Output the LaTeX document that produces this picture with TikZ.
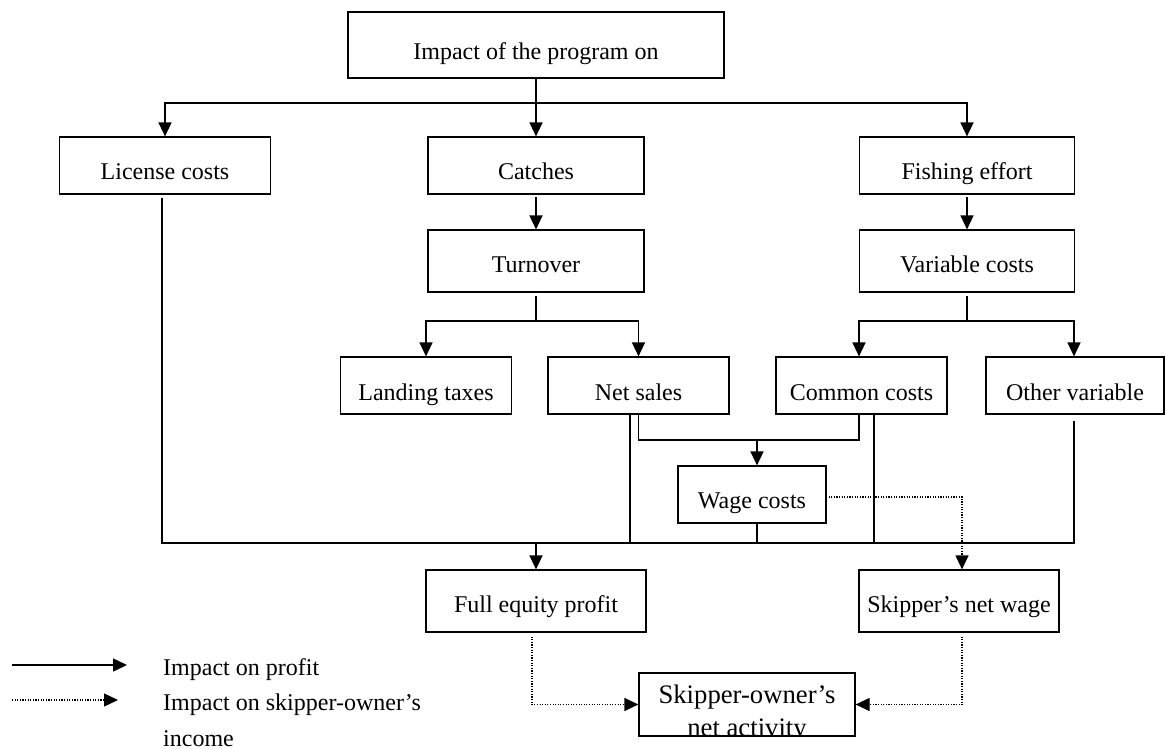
\documentclass[tikz,border=0pt]{standalone}
\usepackage{fontspec}
\setmainfont{Liberation Serif}
\usetikzlibrary{arrows.meta}
\begin{document}
\begin{tikzpicture}[x=1pt,y=-1pt,
  box/.style={draw, line width=1.2pt, inner sep=0pt,
              font=\fontsize{24}{28}\selectfont, text depth=0pt},
  wire/.style={line width=1.5pt},
  arr/.style={wire, -{Triangle[length=14pt,width=13pt]}},
  dots/.style={line width=1.2pt, dash pattern=on 1.1pt off 1.5pt},
  dotarr/.style={dots, -{Triangle[length=14pt,width=13pt]}},
  legtext/.style={anchor=base west, inner sep=0pt, font=\fontsize{24}{28}\selectfont},
]
\useasboundingbox (0,0) rectangle (1165,749);

% ---- boxes ----
\node[box, minimum width=376pt, minimum height=66pt, text height=29pt] (top) at (536,45) {Impact of the program on};

\node[box, minimum width=211pt, minimum height=57pt, text height=27pt] (lic)  at (165,165.5) {License costs};
\node[box, minimum width=216pt, minimum height=57pt, text height=27pt] (cat)  at (536,165.5) {Catches};
\node[box, minimum width=215pt, minimum height=57pt, text height=27pt] (fish) at (967,165.5) {Fishing effort};

\node[box, minimum width=216pt, minimum height=62pt, text height=22pt] (turn) at (536,261) {Turnover};
\node[box, minimum width=215pt, minimum height=62pt, text height=22pt] (var)  at (967,261) {Variable costs};

\node[box, minimum width=171pt, minimum height=57pt, text height=29pt] (land) at (426,385.5)   {Landing taxes};
\node[box, minimum width=181pt, minimum height=57pt, text height=29pt] (net)  at (638.5,385.5) {Net sales};
\node[box, minimum width=171pt, minimum height=57pt, text height=29pt] (com)  at (861.5,385.5) {Common costs};
\node[box, minimum width=178pt, minimum height=57pt, text height=29pt] (oth)  at (1075,385.5)  {Other variable};

\node[box, minimum width=148pt, minimum height=57pt, text height=27pt] (wage) at (752,494.5) {Wage costs};

\node[box, minimum width=220pt, minimum height=62pt, text height=22pt] (fep) at (536,601) {Full equity profit};
\node[box, minimum width=200pt, minimum height=62pt, text height=22pt] (snw) at (959,601) {Skipper’s net wage};

\node[box, minimum width=216pt, minimum height=63pt] (so) at (747,704.5) {};
\begin{scope}
  \clip (so.north west) rectangle (so.south east);
  \node[anchor=base, inner sep=0pt, font=\fontsize{26.7}{33}\selectfont] (so1) at (747,703) {Skipper-owner’s};
  \node[anchor=base, inner sep=0pt, font=\fontsize{26.7}{33}\selectfont] (so2) at (747,736) {net activity};
\end{scope}

% ---- solid connectors (impact on profit) ----
\coordinate (j0) at (536,103);
\draw[arr] (top.south) -- (cat.north);
\draw[arr] (j0) -| (lic.north);
\draw[arr] (j0) -| (fish.north);

\draw[arr] ([yshift=-2pt]cat.south)  -- (turn.north);
\draw[arr] ([yshift=-2pt]fish.south) -- (var.north);

\coordinate (j1) at (536,321);
\draw[wire] ([yshift=-3pt]turn.south) -- (j1);
\draw[arr] (j1) -| (land.north);
\draw[arr] (j1) -| (net.north);

\coordinate (j2) at (967,321);
\draw[wire] ([yshift=-3pt]var.south) -- (j2);
\draw[arr] (j2) -| ([xshift=-2.5pt]com.north);
\draw[arr] (j2) -| ([xshift=-1pt]oth.north);

% net sales and common costs feed the wage costs
\coordinate (u) at (757,440);
\draw[wire] (net.south) |- (u) -| ([xshift=-2.5pt]com.south);
\draw[arr] (u) -- (u |- wage.north);

% everything gathers on the bottom bar
\coordinate (bar) at (536,543);
\coordinate (licb) at ([xshift=-3pt,yshift=-3pt]lic.south);
\coordinate (othb) at ([xshift=-1pt,yshift=-6pt]oth.south);
\coordinate (netb) at ([xshift=-8.5pt]net.south);
\coordinate (comb) at ([xshift=12.5pt]com.south);
\draw[wire] (licb) |- (bar) -| (othb);
\draw[wire] (netb) -- (netb |- bar);
\draw[wire] (comb) -- (comb |- bar);
\draw[wire] (u |- wage.south) -- (u |- bar);
\draw[arr] (bar) -- (fep.north);

% ---- dotted connectors (skipper-owner's income) ----
\coordinate (d0) at (962,497);
\draw[dotarr] ([xshift=2pt]wage.east |- d0) -| ([xshift=3pt]snw.north);
\draw[dotarr] ([xshift=-4pt,yshift=-4pt]fep.south) |- (so.west);
\draw[dotarr] ([xshift=3pt,yshift=-4pt]snw.south) |- (so.east);

% ---- legend ----
\coordinate (la) at (12,665);
\coordinate (lb) at (127,665);
\draw[arr] (la) -- (lb);
\node[legtext] (lt1) at (163,675) {Impact on profit};

\coordinate (lc) at (12,700);
\coordinate (ld) at (118,700);
\draw[dotarr] (lc) -- (ld);
\node[legtext] (lt2) at (163,710) {Impact on skipper-owner’s};
\node[legtext] (lt3) at (163,746) {income};
\end{tikzpicture}
\end{document}
